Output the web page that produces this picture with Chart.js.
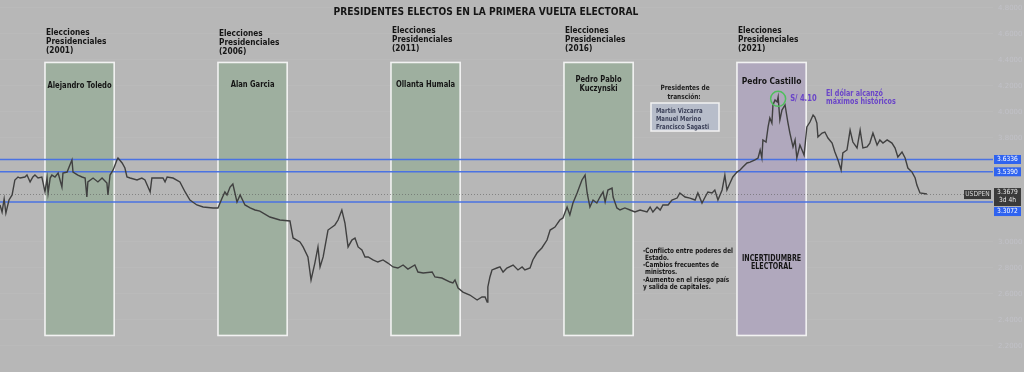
<!DOCTYPE html>
<html lang="es">
<head>
<meta charset="UTF-8">
<title>USDPEN - Presidentes electos</title>
<script src="https://cdn.jsdelivr.net/npm/chart.js"></script>
<style>
  body { margin: 0; background: #b7b7b7; }
  #wrap { width: 1024px; height: 372px; }
</style>
</head>
<body>
<div id="wrap"><canvas id="fxChart" width="1024" height="372"></canvas></div>
<script>
// USD/PEN weekly path (x in decimal years)
const years = [
  2000.00,2000.06,2000.12,2000.17,2000.26,2000.35,2000.43,2000.52,2000.58,2000.72,
  2000.78,2000.87,2000.95,2001.01,2001.10,2001.21,2001.24,2001.30,2001.36,2001.39,
  2001.45,2001.50,2001.59,2001.68,2001.79,2001.82,2001.94,2002.02,2002.08,2002.11,
  2002.25,2002.37,2002.46,2002.51,2002.54,2002.69,2002.83,2002.95,2003.09,2003.12,
  2003.18,2003.27,2003.38,2003.41,2003.53,2003.61,2003.67,2003.76,2003.96,2004.10,
  2004.19,2004.34,2004.39,2004.57,2004.71,2004.77,2004.83,2005.00,2005.20,2005.35,
  2005.49,2005.69,2005.87,2006.16,2006.30,2006.42,2006.50,2006.56,2006.65,2006.73,
  2006.85,2006.94,2007.08,2007.23,2007.37,2007.51,2007.80,2008.09,2008.38,2008.47,
  2008.67,2008.76,2008.90,2008.99,2009.10,2009.19,2009.25,2009.34,2009.48,2009.68,
  2009.77,2009.88,2009.97,2010.06,2010.17,2010.26,2010.35,2010.46,2010.55,2010.64,
  2010.78,2010.92,2011.07,2011.21,2011.36,2011.50,2011.65,2011.79,2011.99,2012.08,
  2012.23,2012.49,2012.57,2012.77,2013.01,2013.09,2013.15,2013.24,2013.38,2013.58,
  2013.79,2013.93,2014.02,2014.08,2014.10,2014.16,2014.22,2014.36,2014.45,2014.54,
  2014.65,2014.83,2014.97,2015.09,2015.17,2015.32,2015.40,2015.52,2015.66,2015.81,
  2015.90,2016.04,2016.18,2016.27,2016.39,2016.47,2016.56,2016.68,2016.82,2016.91,
  2016.97,2017.05,2017.14,2017.25,2017.34,2017.43,2017.49,2017.57,2017.69,2017.72,
  2017.83,2017.92,2018.06,2018.21,2018.35,2018.50,2018.70,2018.79,2018.87,2018.99,
  2019.08,2019.16,2019.31,2019.42,2019.57,2019.65,2019.80,2019.94,2020.09,2020.17,
  2020.29,2020.38,2020.46,2020.58,2020.66,2020.75,2020.87,2020.95,2021.01,2021.10,
  2021.18,2021.30,2021.39,2021.47,2021.59,2021.68,2021.82,2021.91,2021.97,2022.02,
  2022.05,2022.14,2022.20,2022.25,2022.31,2022.34,2022.40,2022.46,2022.49,2022.54,
  2022.60,2022.69,2022.77,2022.83,2022.92,2022.98,2023.03,2023.12,2023.18,2023.24,
  2023.32,2023.41,2023.50,2023.55,2023.61,2023.64,2023.76,2023.84,2023.93,2024.05,
  2024.13,2024.22,2024.31,2024.36,2024.48,2024.57,2024.65,2024.77,2024.86,2024.94,
  2025.06,2025.14,2025.23,2025.35,2025.43,2025.52,2025.64,2025.78,2025.87,2025.95,
  2026.07,2026.16,2026.24,2026.36,2026.45,2026.50,2026.59,2026.79
];
const usdpen = [
  3.284,3.230,3.330,3.222,3.322,3.361,3.476,3.499,3.491,3.499,
  3.514,3.461,3.499,3.514,3.491,3.499,3.461,3.384,3.491,3.376,
  3.491,3.514,3.499,3.530,3.422,3.530,3.537,3.591,3.630,3.537,
  3.514,3.499,3.491,3.345,3.461,3.491,3.461,3.491,3.453,3.361,
  3.514,3.553,3.630,3.645,3.607,3.568,3.499,3.491,3.476,3.491,
  3.476,3.384,3.491,3.491,3.491,3.461,3.499,3.491,3.461,3.384,
  3.322,3.284,3.268,3.261,3.261,3.337,3.384,3.361,3.422,3.445,
  3.307,3.361,3.284,3.261,3.245,3.237,3.191,3.168,3.161,3.030,
  2.999,2.961,2.884,2.707,2.837,2.961,2.807,2.884,3.091,3.130,
  3.168,3.245,3.145,2.961,3.014,3.030,2.961,2.937,2.884,2.884,
  2.861,2.845,2.861,2.837,2.807,2.799,2.822,2.791,2.822,2.768,
  2.761,2.768,2.730,2.722,2.691,2.684,2.707,2.645,2.614,2.591,
  2.553,2.576,2.576,2.537,2.653,2.730,2.784,2.799,2.807,2.768,
  2.799,2.822,2.784,2.807,2.784,2.799,2.861,2.914,2.953,3.014,
  3.091,3.114,3.168,3.184,3.268,3.207,3.299,3.376,3.476,3.514,
  3.376,3.268,3.322,3.299,3.345,3.384,3.307,3.399,3.414,3.345,
  3.261,3.245,3.261,3.245,3.230,3.245,3.230,3.268,3.230,3.268,
  3.245,3.284,3.284,3.322,3.337,3.376,3.345,3.337,3.322,3.376,
  3.299,3.345,3.384,3.376,3.399,3.322,3.399,3.514,3.399,3.453,
  3.499,3.537,3.553,3.576,3.607,3.614,3.630,3.645,3.707,3.645,
  3.784,3.768,3.884,3.953,3.914,4.053,4.091,4.076,4.114,3.937,
  4.014,4.053,3.922,3.837,3.730,3.784,3.645,3.745,3.707,3.668,
  3.884,3.922,3.976,3.960,3.914,3.807,3.837,3.845,3.799,3.760,
  3.691,3.630,3.553,3.684,3.707,3.860,3.768,3.722,3.860,3.722,
  3.730,3.760,3.837,3.745,3.784,3.760,3.784,3.760,3.722,3.653,
  3.691,3.645,3.568,3.537,3.491,3.437,3.376,3.368
];

const electionYears = [2001, 2006, 2011, 2016, 2021];
const presidents = [['Alejandro Toledo'], ['Alan Garcia'], ['Ollanta Humala'], ['Pedro Pablo', 'Kuczynski'], ['Pedro Castillo']];
const levels = [3.6336, 3.5390, 3.3072];
const lastPrice = 3.3679;
const peakValue = 4.10;
const yTicks = [2.2, 2.4, 2.6, 2.8, 3.0, 3.8, 4.0, 4.2, 4.4, 4.6, 4.8];
const transitionPresidents = ['Martín Vizcarra', 'Manuel Merino', 'Francisco Sagasti'];
const crisisNotes = ['-Conflicto entre poderes del', ' Estado.', '-Cambios frecuentes de', ' ministros.', '-Aumento en el riesgo país', 'y salida de capitales.'];

const FONT = '"DejaVu Sans", sans-serif';

// draw text squeezed to roughly the narrow face of the original
function put(ctx, s, px, py, size, color, align, k, weight) {
    ctx.font = (weight || 'bold') + ' ' + size + 'px ' + FONT;
    ctx.fillStyle = color;
    ctx.textAlign = align || 'left';
    ctx.textBaseline = 'middle';
    const w = ctx.measureText(s).width * (k || 0.84);
    ctx.fillText(s, px, py, w);
}

function tag(ctx, lines, l, top, w, h, bg, fg) {
    ctx.fillStyle = bg;
    ctx.fillRect(l, top, w, h);
    lines.forEach((s, i) => put(ctx, s, l + w / 2, top + 4.5 + i * 8, 7, fg, 'center', 0.85, 'normal'));
}

const overlay = {
    id: 'overlay',
    beforeDatasetsDraw(chart) {
        const { ctx, chartArea: a, scales: { x, y } } = chart;
        ctx.save();
        electionYears.forEach((yr, i) => {
            const l = x.getPixelForValue(yr + 0.3), r = x.getPixelForValue(yr + 2.3);
            const t = y.getPixelForValue(4.38), b = y.getPixelForValue(2.28);
            ctx.fillStyle = i === 4 ? '#b0a8bd' : '#9eaf9f';
            ctx.fillRect(l, t, r - l, b - t);
            ctx.strokeStyle = '#f2f2f2';
            ctx.lineWidth = 1.6;
            ctx.strokeRect(l, t, r - l, b - t);
        });
        // dotted last price line
        ctx.setLineDash([1, 2]);
        ctx.strokeStyle = 'rgba(90,90,90,0.55)';
        ctx.lineWidth = 1;
        let py = Math.round(y.getPixelForValue(lastPrice)) + 0.5;
        ctx.beginPath(); ctx.moveTo(a.left, py); ctx.lineTo(a.right, py); ctx.stroke();
        ctx.setLineDash([]);
        ctx.strokeStyle = '#4a72e2';
        ctx.lineWidth = 1.6;
        levels.forEach(v => {
            const ly = y.getPixelForValue(v);
            ctx.beginPath(); ctx.moveTo(a.left, ly); ctx.lineTo(a.right, ly); ctx.stroke();
        });
        ctx.restore();
    },
    afterDraw(chart) {
        const { ctx, chartArea: a, scales: { x, y } } = chart;
        ctx.save();
        put(ctx, 'PRESIDENTES ELECTOS EN LA PRIMERA VUELTA ELECTORAL', 486, 12, 11, '#151515', 'center', 0.83);

        const headY = [33, 34, 31, 31, 31];
        const nameY = [86, 85, 85, 80, 82];
        electionYears.forEach((yr, i) => {
            const l = x.getPixelForValue(yr + 0.3), r = x.getPixelForValue(yr + 2.3);
            ['Elecciones', 'Presidenciales', '(' + yr + ')'].forEach((s, j) =>
                put(ctx, s, l + 1, headY[i] + j * 9, 8.5, '#151515', 'left', 0.87));
            presidents[i].forEach((s, j) =>
                put(ctx, s, (l + r) / 2, nameY[i] + j * 9, i === 4 ? 9.5 : 8.5, '#151515', 'center', 0.8));
        });

        // transition presidents
        const tx = x.getPixelForValue(2019.8);
        put(ctx, 'Presidentes de', tx, 88, 7.3, '#202020', 'center', 0.8);
        put(ctx, 'transción:', tx - 1, 97, 7.3, '#202020', 'center', 0.8);
        ctx.fillStyle = '#b7bdca';
        ctx.fillRect(651, 103, 68, 28);
        ctx.strokeStyle = '#f2f2f2'; ctx.lineWidth = 1.5;
        ctx.strokeRect(651, 103, 68, 28);
        transitionPresidents.forEach((s, j) => put(ctx, s, 656, 111 + j * 8, 7, '#3b4058', 'left', 0.77));

        crisisNotes.forEach((s, j) => put(ctx, s, 643, 251 + j * 7.2, 7.3, '#151515', 'left', 0.78));

        const cx = x.getPixelForValue(2022.3);
        put(ctx, 'INCERTIDUMBRE', cx, 259, 8, '#151515', 'center', 0.8);
        put(ctx, 'ELECTORAL', cx, 267, 8, '#151515', 'center', 0.8);

        // peak marker
        let pk = 0;
        usdpen.forEach((v, i) => { if (v > usdpen[pk]) pk = i; });
        const px = x.getPixelForValue(years[pk]), py = y.getPixelForValue(peakValue);
        ctx.strokeStyle = '#4fbf5c'; ctx.lineWidth = 1.5;
        ctx.beginPath(); ctx.arc(px, py, 7.5, 0, Math.PI * 2); ctx.stroke();
        put(ctx, 'S/ ' + peakValue.toFixed(2), px + 12, py, 8.5, '#6a45c8', 'left', 0.8);
        put(ctx, 'El dólar alcanzó', 826, 94, 8, '#6a45c8', 'left', 0.8);
        put(ctx, 'máximos históricos', 826, 102, 8, '#6a45c8', 'left', 0.8);

        // price axis tags
        const ax = a.right + 1;
        const blue = '#2f63f0';
        tag(ctx, [levels[0].toFixed(4)], ax, y.getPixelForValue(levels[0]) - 4.5, 27, 9, blue, '#ffffff');
        tag(ctx, [levels[1].toFixed(4)], ax, y.getPixelForValue(levels[1]) - 4.5, 27, 9, blue, '#ffffff');
        const ly = y.getPixelForValue(lastPrice);
        tag(ctx, ['USDPEN'], ax - 30, ly - 4, 27, 9, '#3a3a3a', '#d8d8d8');
        tag(ctx, [lastPrice.toFixed(4), '3d 4h'], ax, ly - 6, 27, 18, '#3a3a3a', '#e8e8e8');
        tag(ctx, [levels[2].toFixed(4)], ax, ly + 13, 27, 9, blue, '#ffffff');
        ctx.restore();
    }
};

new Chart(document.getElementById('fxChart'), {
    type: 'line',
    data: {
        datasets: [{
            data: years.map((t, i) => ({ x: t, y: usdpen[i] })),
            borderColor: '#404040',
            borderWidth: 1.4,
            pointRadius: 0,
            tension: 0
        }]
    },
    options: {
        responsive: false,
        animation: false,
        devicePixelRatio: 1,
        layout: { padding: 0 },
        plugins: { legend: { display: false }, tooltip: { enabled: false } },
        scales: {
            x: { type: 'linear', min: 2000, max: 2028.7, display: false },
            y: {
                position: 'right',
                min: 1.999,
                max: 4.8605,
                afterFit(scale) {
                    scale.width = 31;
                    scale.paddingTop = 0;
                    scale.paddingBottom = 0;
                },
                afterBuildTicks(scale) { scale.ticks = yTicks.map(v => ({ value: v })); },
                border: { display: false },
                grid: { color: 'rgba(255,255,255,0.05)', drawTicks: false },
                ticks: {
                    padding: 5,
                    color: '#c1c1c7',
                    font: { family: FONT, size: 7 },
                    callback: v => v.toFixed(4)
                }
            }
        }
    },
    plugins: [overlay]
});
</script>
</body>
</html>
